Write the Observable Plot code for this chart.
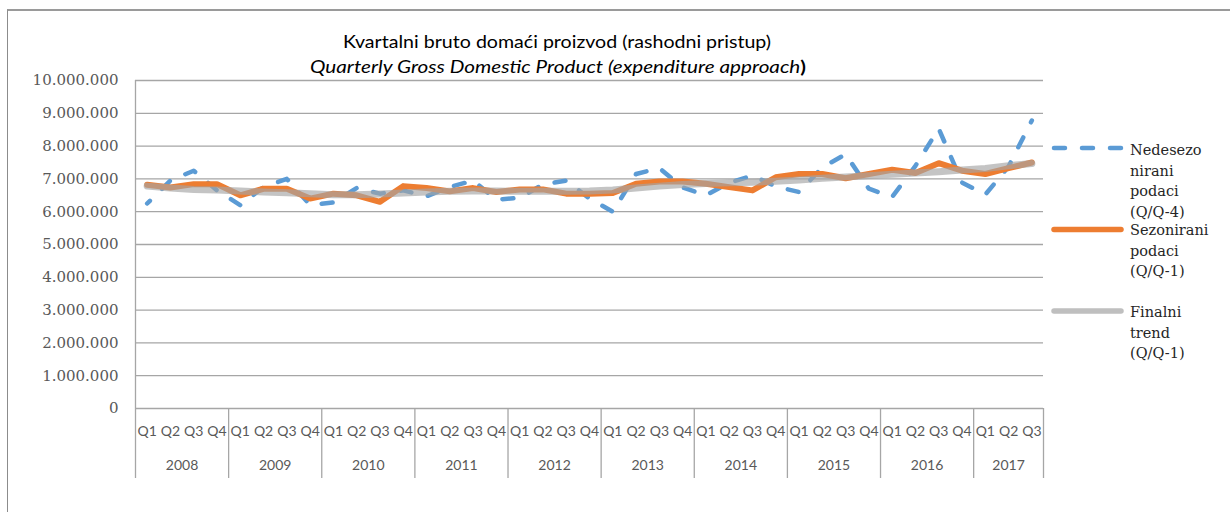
<!DOCTYPE html>
<html><head><meta charset="utf-8">
<script src="https://cdn.jsdelivr.net/npm/d3@7"></script>
<script src="https://cdn.jsdelivr.net/npm/@observablehq/plot@0.6"></script>
<style>
body{margin:0;background:#fff;}
#wrap{position:relative;width:1230px;height:512px;overflow:hidden;background:#fff;}
#frame{position:absolute;left:7px;top:9px;width:1240px;height:520px;border-left:1px solid #8c8c8c;border-top:2px solid #9a9a9a;}
#chart{position:absolute;left:0;top:0;}
#overlay{position:absolute;left:0;top:0;}
</style></head><body>
<div id="wrap"><div id="frame"></div><div id="chart"></div><svg id="overlay" width="1230" height="512"></svg></div>
<script>
const years = ["2008","2009","2010","2011","2012","2013","2014","2015","2016","2017"];
const quarters = ["Q1","Q2","Q3","Q4"];
const yTicks = [0,1000000,2000000,3000000,4000000,5000000,6000000,7000000,8000000,9000000,10000000];
// Nedesezonirani podaci (Q/Q-4)
const unadjusted = [
  6250000,6950000,7250000,6650000,
  6200000,6750000,7000000,6200000,
  6280000,6720000,6550000,6650000,
  6470000,6750000,6950000,6370000,
  6420000,6830000,6950000,6400000,
  6000000,7150000,7330000,6740000,
  6500000,6880000,7100000,6770000,
  6600000,7350000,7750000,6700000,
  6450000,7400000,8530000,6890000,
  6520000,7380000,8780000];
// Sezonirani podaci (Q/Q-1)
const seasonal = [
  6820000,6740000,6840000,6840000,
  6500000,6700000,6700000,6400000,
  6550000,6500000,6300000,6780000,
  6720000,6620000,6720000,6600000,
  6680000,6680000,6550000,6550000,
  6570000,6850000,6920000,6920000,
  6850000,6750000,6650000,7050000,
  7150000,7150000,7020000,7150000,
  7280000,7180000,7480000,7250000,
  7150000,7330000,7500000];
// Finalni trend (Q/Q-1)
const trend = [
  6780000,6720000,6680000,6660000,
  6630000,6600000,6580000,6550000,
  6520000,6520000,6540000,6570000,
  6600000,6620000,6630000,6630000,
  6620000,6620000,6620000,6630000,
  6660000,6720000,6780000,6830000,
  6860000,6880000,6900000,6930000,
  6970000,7020000,7060000,7100000,
  7140000,7180000,7220000,7270000,
  7320000,7400000,7470000];

const n = unadjusted.length;
const rows = d3.range(n).map(i => ({x: i + 0.5, unadj: unadjusted[i], seas: seasonal[i], trend: trend[i]}));
const boundaries = years.map((y, k) => k * 4).concat([n]);
const qTicks = d3.range(n).map(i => i + 0.5);
const yearMids = years.map((y, k) => (k * 4 + Math.min(k * 4 + 4, n)) / 2);
const fmt = d3.formatLocale({decimal: ",", thousands: ".", grouping: [3], currency: ["", ""]}).format(",");

const grid = "#a6a6a6";
const sans = "Lato, 'Open Sans', sans-serif";
const chart = Plot.plot({
  width: 1230, height: 512,
  marginLeft: 135, marginRight: 187, marginTop: 80, marginBottom: 104,
  x: {domain: [0, n], label: null},
  y: {domain: [0, 10000000], label: null},
  marks: [
    Plot.gridY(yTicks, {stroke: grid, strokeOpacity: 1, strokeWidth: 1.3}),
    Plot.ruleX([0], {stroke: grid, strokeWidth: 1.3}),
    Plot.axisY(yTicks, {label: null, tickSize: 0, tickPadding: 17, tickFormat: fmt, fill: "#595959", fontFamily: "DejaVu Serif", fontSize: 15}),
    Plot.axisX(boundaries, {label: null, tickSize: 70, tickFormat: () => "", stroke: grid, strokeWidth: 1.3}),
    Plot.axisX(qTicks, {label: null, tickSize: 0, tickPadding: 18, tickFormat: v => quarters[Math.floor(v) % 4], fill: "#595959", fontFamily: sans, fontSize: 14}),
    Plot.axisX(yearMids, {label: null, tickSize: 0, tickPadding: 52, tickFormat: v => years[Math.floor(v / 4)], fill: "#595959", fontFamily: sans, fontSize: 14}),
    Plot.line(rows, {x: "x", y: "unadj", stroke: "#5b9bd5", strokeWidth: 4.5, strokeDasharray: "11,17", strokeLinecap: "round", strokeLinejoin: "round", className: "unadj"}),
    Plot.line(rows, {x: "x", y: "seas", stroke: "#ed7d31", strokeWidth: 6, strokeLinejoin: "round", strokeLinecap: "round"}),
    Plot.line(rows, {x: "x", y: "trend", stroke: "#a5a5a5", strokeWidth: 7, strokeOpacity: 0.65, strokeLinejoin: "round", strokeLinecap: "round"})
  ]
});
chart.style.background = "transparent";
document.getElementById("chart").appendChild(chart);

// align the dash pattern so that the last point (2017 Q3) ends on a dash, as in the reference
const bluePath = chart.querySelector(".unadj path");
if (bluePath && bluePath.getTotalLength) {
  const L = bluePath.getTotalLength();
  const off = ((2 - L) % 28 + 28) % 28;
  bluePath.setAttribute("stroke-dashoffset", off);
}

const ov = d3.select("#overlay");
ov.append("text").attr("x", 557).attr("y", 48).attr("text-anchor", "middle")
  .attr("font-family", sans).attr("font-size", 17).attr("fill", "#000")
  .attr("textLength", 428).attr("lengthAdjust", "spacingAndGlyphs")
  .text("Kvartalni bruto domaći proizvod (rashodni pristup)");
const sub = ov.append("text").attr("x", 558).attr("y", 73).attr("text-anchor", "middle")
  .attr("font-family", sans).attr("font-size", 17).attr("fill", "#000")
  .attr("textLength", 496).attr("lengthAdjust", "spacingAndGlyphs");
sub.append("tspan").attr("font-style", "italic").text("Quarterly Gross Domestic Product (expenditure approach");
sub.append("tspan").attr("font-weight", "bold").text(")");

const legend = [
  {stroke: "#5b9bd5", dash: "11,17", width: 4.5, y: 148, lines: ["Nedesezo", "nirani", "podaci", "(Q/Q-4)"], base: 155},
  {stroke: "#ed7d31", dash: null, width: 5.5, y: 229.5, lines: ["Sezonirani", "podaci", "(Q/Q-1)"], base: 235},
  {stroke: "#bfbfbf", dash: null, width: 5.5, y: 311, lines: ["Finalni", "trend", "(Q/Q-1)"], base: 317}
];
legend.forEach(e => {
  const l = ov.append("line").attr("x1", 1054).attr("x2", e.dash ? 1123 : 1121).attr("y1", e.y).attr("y2", e.y)
    .attr("stroke", e.stroke).attr("stroke-width", e.width).attr("stroke-linecap", "round");
  if (e.dash) l.attr("stroke-dasharray", e.dash);
  e.lines.forEach((t, j) => {
    ov.append("text").attr("x", 1130).attr("y", e.base + j * 20.7)
      .attr("font-family", "DejaVu Serif").attr("font-size", 14.5).attr("fill", "#262626").text(t);
  });
});
</script>
</body></html>
